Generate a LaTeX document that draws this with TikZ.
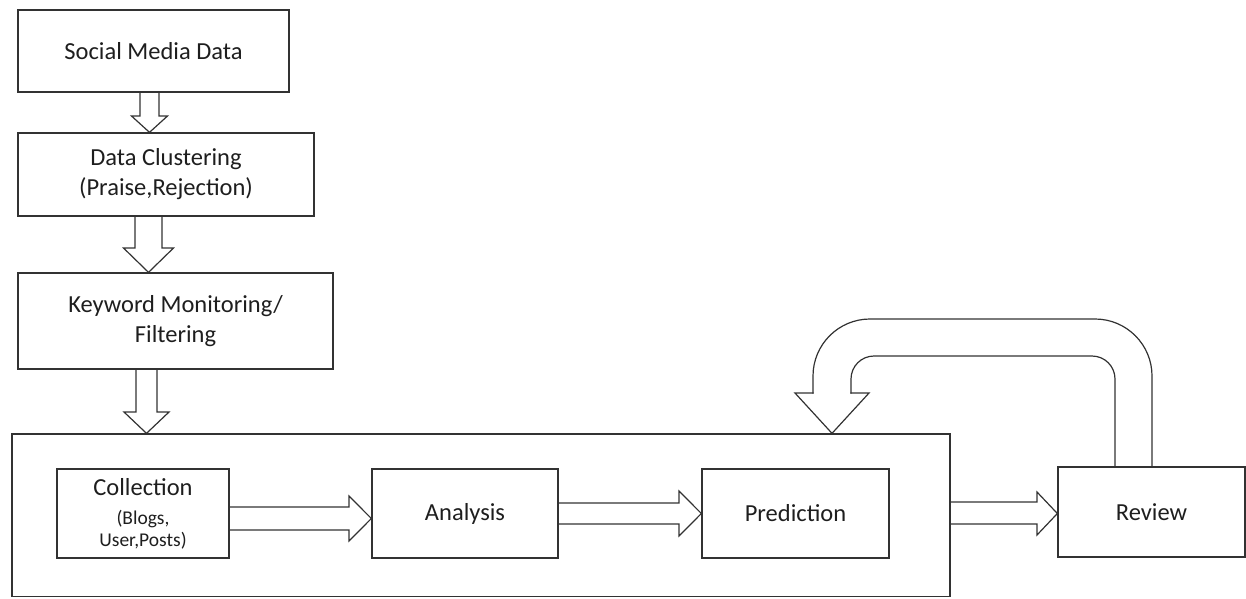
\documentclass[tikz,border=0pt]{standalone}
\usepackage{fontspec}
\setmainfont{Carlito}
\definecolor{line_grey}{RGB}{50,50,50}
\definecolor{text_grey}{RGB}{30,30,30}
\tikzstyle{box}=[rectangle,draw=line_grey,line width=1.3pt,inner sep=2pt,
  align=center,text=text_grey,font=\fontsize{24.5}{30}\selectfont]
\tikzstyle{blockarrow}=[draw=line_grey,line width=1.2pt,line join=miter]

\begin{document}
\begin{tikzpicture}[x=1pt,y=-1pt]
    \useasboundingbox (0,0) rectangle (1246,598);
    \node [style=box,minimum width=271pt,minimum height=82pt] (smd) at (153.5,51) {Social Media Data};
    \node [style=box,minimum width=296pt,minimum height=83pt] (dc) at (166,174.5) {Data Clustering\\(Praise,Rejection)};
    \node [style=box,minimum width=315pt,minimum height=96pt] (kw) at (175.5,321) {Keyword Monitoring/\\Filtering};
    \node [style=box,minimum width=938pt,minimum height=162.5pt] (big) at (481,515.25) {};
    \node [style=box,minimum width=172pt,minimum height=89pt] (col) at (143,513.5)
      {Collection\\[-1pt]{\fontsize{19.5}{22}\selectfont(Blogs,}\\[-8pt]{\fontsize{19.5}{22}\selectfont User,Posts)}};
    \node [style=box,minimum width=186pt,minimum height=89pt] (ana) at (465,513.5) {Analysis};
    \node [style=box,minimum width=187pt,minimum height=89pt] (pre) at (795.5,513.5) {Prediction};
    \node [style=box,minimum width=187pt,minimum height=90pt] (rev) at (1151.5,512) {Review};
    % down arrows
    \draw [style=blockarrow] (140,0 |- smd.south) -- (140,116) -- (131.5,116) -- (149.5,0 |- dc.north)
      -- (167.5,116) -- (159,116) -- (159,0 |- smd.south);
    \draw [style=blockarrow] (135,0 |- dc.south) -- (135,248) -- (123.5,248) -- (148.5,0 |- kw.north)
      -- (173.5,248) -- (162,248) -- (162,0 |- dc.south);
    \draw [style=blockarrow] (136,0 |- kw.south) -- (136,412) -- (124,412) -- (146.5,0 |- big.north)
      -- (169,412) -- (157,412) -- (157,0 |- kw.south);
    % right arrows
    \draw [style=blockarrow] (col.east |- 0,507) -- (349,507) -- (349,496) -- (ana.west |- 0,518.5)
      -- (349,541) -- (349,530) -- (col.east |- 0,530);
    \draw [style=blockarrow] (ana.east |- 0,503) -- (679,503) -- (679,491) -- (pre.west |- 0,513.5)
      -- (679,536) -- (679,524) -- (ana.east |- 0,524);
    \draw [style=blockarrow] (big.east |- 0,502) -- (1037,502) -- (1037,492) -- (rev.west |- 0,513.5)
      -- (1037,535) -- (1037,524) -- (big.east |- 0,524);
    % loop back
    \draw [style=blockarrow,rounded corners=57pt] (1152,0 |- rev.north) -- (1152,319) -- (813,319) -- (813,393.6);
    \draw [style=blockarrow,rounded corners=23pt] (1115,0 |- rev.north) -- (1115,356) -- (851,356) -- (851,393.6);
    \draw [style=blockarrow] (813.6,393) -- (795,393) -- (832,0 |- big.north) -- (869,393) -- (850.4,393);
\end{tikzpicture}
\end{document}
